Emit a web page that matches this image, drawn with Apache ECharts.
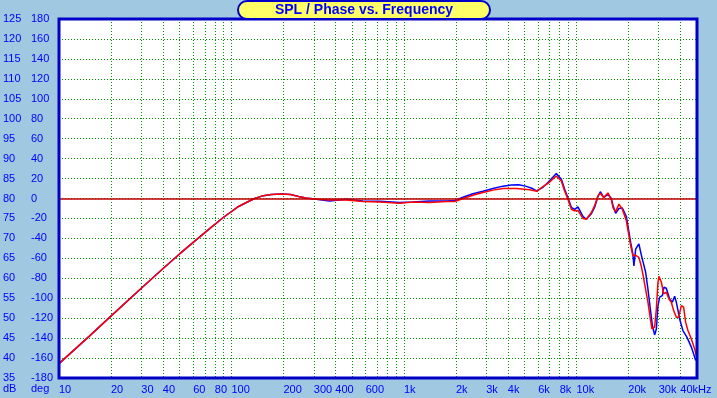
<!DOCTYPE html>
<html>
<head>
<meta charset="utf-8">
<script src="https://cdn.jsdelivr.net/npm/echarts@6/dist/echarts.min.js"></script>
<style>
  html, body { margin: 0; padding: 0; background: #A0C8E0; }
  #chart { width: 717px; height: 398px; }
</style>
</head>
<body>
<div id="chart"></div>
<script>
// grid lines (Hz) and x labels
var gridFreqs = [20,30,40,50,60,70,80,90,100,200,300,400,500,600,700,800,900,
  1000,2000,3000,4000,5000,6000,7000,8000,9000,10000,20000,30000,40000];
var labelFreqs = [10,20,30,40,60,80,100,200,300,400,600,1000,2000,3000,4000,6000,8000,10000,20000,30000,40000];
var xLabels = ['10','20','30','40','60','80','100','200','300','400','600','1k','2k','3k','4k','6k','8k','10k','20k','30k','40kHz'];

// [Hz, dB]
var redCurve = [[10,38.6],[15,45.5],[20,50.5],[30,57.5],[40,62.4],[50,66.1],[60,69.0],[75,72.5],[90,75.3],
  [110,78.0],[122,79.0],[136,80.0],[150,80.6],[170,81.0],[195,81.15],[220,81.0],[245,80.5],[270,80.1],[311,79.8],
  [371,79.65],[464,79.6],[578,79.25],[723,79.15],[944,78.8],[1128,79.1],[1409,79.0],[1762,79.25],[1968,79.25],
  [2198,80.0],[2512,80.8],[2871,81.5],[3281,82.1],[3750,82.5],[4484,82.5],[5355,82.2],[5902,81.8],[6394,83.0],
  [6836,83.8],[7646,85.65],[8173,84.4],[8543,81.9],[8928,79.8],[9342,77.3],[9761,76.9],[10200,77.0],
  [10906,75.0],[11414,74.8],[12203,76.5],[12752,78.2],[13323,80.6],[13760,81.3],[14380,80.25],[15227,81.4],
  [15934,79.8],[16278,77.75],[16874,76.7],[17636,78.6],[18456,77.3],[19468,74.4],[20075,71.1],[20620,68.2],
  [21260,65.6],[21950,65.8],[23020,65.25],[23770,63.0],[24290,61.0],[24850,58.6],[25970,54.0],[26820,49.8],
  [27400,47.3],[28400,47.75],[29060,52.3],[29690,59.0],[30090,60.5],[31070,59.0],[32030,56.1],[33200,56.5],
  [34380,54.8],[35490,54.0],[36610,51.9],[37940,50.25],[39130,50.25],[40560,53.15],[41820,52.75],[42950,49.0],
  [44300,46.9],[46360,44.8],[48450,42.3],[49570,40.6]];

var blueCurve = [[10,38.6],[15,45.5],[20,50.5],[30,57.5],[40,62.4],[50,66.1],[60,69.0],[75,72.5],[90,75.3],
  [110,78.0],[122,79.0],[136,80.0],[150,80.6],[170,81.0],[195,81.15],[220,81.0],[245,80.5],[270,80.1],[311,79.8],
  [371,79.4],[464,79.8],[578,79.4],[723,79.3],[944,79.0],[1128,79.1],[1409,79.4],[1762,79.4],[1968,79.5],
  [2198,80.3],[2512,81.2],[2871,81.8],[3281,82.5],[3750,83.1],[4200,83.4],[4623,83.45],[5070,83.1],[5566,82.5],
  [5870,81.9],[6394,82.8],[6836,84.0],[7646,86.25],[8173,84.8],[8543,82.3],[8928,80.2],[9342,77.8],[9761,77.3],
  [10200,77.9],[10906,75.5],[11414,74.8],[12203,76.2],[12752,77.8],[13323,80.5],[13760,81.7],[14380,80.3],
  [15227,81.0],[15934,80.0],[16278,78.3],[16874,76.3],[17636,77.5],[17950,78.0],[18456,77.6],[19468,75.5],
  [20075,72.0],[20620,69.0],[21260,66.0],[21540,63.1],[22040,67.3],[23020,68.6],[23880,65.5],[25190,61.5],
  [25970,57.3],[26820,52.3],[27560,48.15],[28400,45.8],[29060,47.3],[29690,53.1],[30370,55.25],[31480,55.65],
  [32160,57.75],[33200,57.5],[34700,54.8],[35960,54.0],[37100,55.5],[37940,54.0],[39660,49.8],[41430,46.9],
  [43700,45.25],[46360,42.75],[48450,40.25],[49100,39.4]];

var refLevel = 80;

function toLog(pts) {
  return pts.map(function (p) { return [Math.log10(p[0]), p[1]]; });
}

var chart = echarts.init(document.getElementById('chart'));
var labelFont = { color: '#0000FF', fontSize: 11, fontFamily: 'Liberation Sans' };

var option = {
  animation: false,
  backgroundColor: '#A0C8E0',
  grid: { left: 59, right: 20, top: 19, bottom: 20, show: true, backgroundColor: '#FFFFFF', borderWidth: 0 },
  xAxis: {
    type: 'value',
    min: 1,
    max: Math.log10(50000),
    axisLine: { show: false },
    axisTick: { show: false, customValues: gridFreqs.map(function (f) { return Math.log10(f); }) },
    splitLine: { show: true, lineStyle: { color: ['#009000'], type: [1, 2], width: 1 } },
    axisLabel: Object.assign({
      customValues: labelFreqs.map(function (f) { return Math.log10(f); }),
      align: 'left',
      margin: 6,
      formatter: function (v) {
        for (var i = 0; i < labelFreqs.length; i++) {
          if (Math.abs(Math.log10(labelFreqs[i]) - v) < 1e-6) return xLabels[i];
        }
        return '';
      }
    }, labelFont)
  },
  yAxis: [
    {
      type: 'value', min: 35, max: 125, interval: 5, position: 'left',
      axisLine: { show: false }, axisTick: { show: false },
      splitLine: { lineStyle: { color: ['#009000'], type: [1, 2], width: 1 } },
      axisLabel: Object.assign({ align: 'left', margin: 56, padding: [0, 0, 9, 0] }, labelFont)
    },
    {
      type: 'value', min: -180, max: 180, interval: 20, position: 'left', offset: 0,
      axisLine: { show: false }, axisTick: { show: false }, splitLine: { show: false },
      axisLabel: Object.assign({ align: 'left', margin: 28, padding: [0, 0, 9, 0] }, labelFont)
    }
  ],
  series: [
    {
      type: 'line', data: [], symbol: 'none', silent: true,
      markLine: {
        silent: true, symbol: 'none', label: { show: false },
        lineStyle: { color: '#C00000', type: 'solid', width: 1.5 },
        data: [{ yAxis: refLevel }]
      }
    },
    {
      name: 'blue', type: 'line', symbol: 'none', data: toLog(blueCurve),
      lineStyle: { color: '#0000FF', width: 1.5 }
    },
    {
      name: 'red', type: 'line', symbol: 'none', data: toLog(redCurve),
      lineStyle: { color: '#FF0000', width: 1.5 }
    }
  ],
  graphic: [
    {
      type: 'rect', z: 100, silent: true,
      shape: { x: 59, y: 19, width: 638, height: 359 },
      style: { fill: 'none', stroke: '#0000C8', lineWidth: 3 }
    },
    {
      type: 'rect', z: 100,
      shape: { x: 238, y: 1, width: 252, height: 18, r: 9 },
      style: { fill: '#FFFF66', stroke: '#0000C8', lineWidth: 2 }
    },
    {
      type: 'text', z: 101, x: 364, y: 10,
      style: { text: 'SPL / Phase vs. Frequency', align: 'center', verticalAlign: 'middle',
        font: 'bold 14px "Liberation Sans"', fill: '#0000FF' }
    },
    {
      type: 'text', z: 101, x: 3, y: 389,
      style: { text: 'dB', align: 'left', verticalAlign: 'middle', font: '11px "Liberation Sans"', fill: '#0000FF' }
    },
    {
      type: 'text', z: 101, x: 31, y: 389,
      style: { text: 'deg', align: 'left', verticalAlign: 'middle', font: '11px "Liberation Sans"', fill: '#0000FF' }
    }
  ]
};

chart.setOption(option);
</script>
</body>
</html>
